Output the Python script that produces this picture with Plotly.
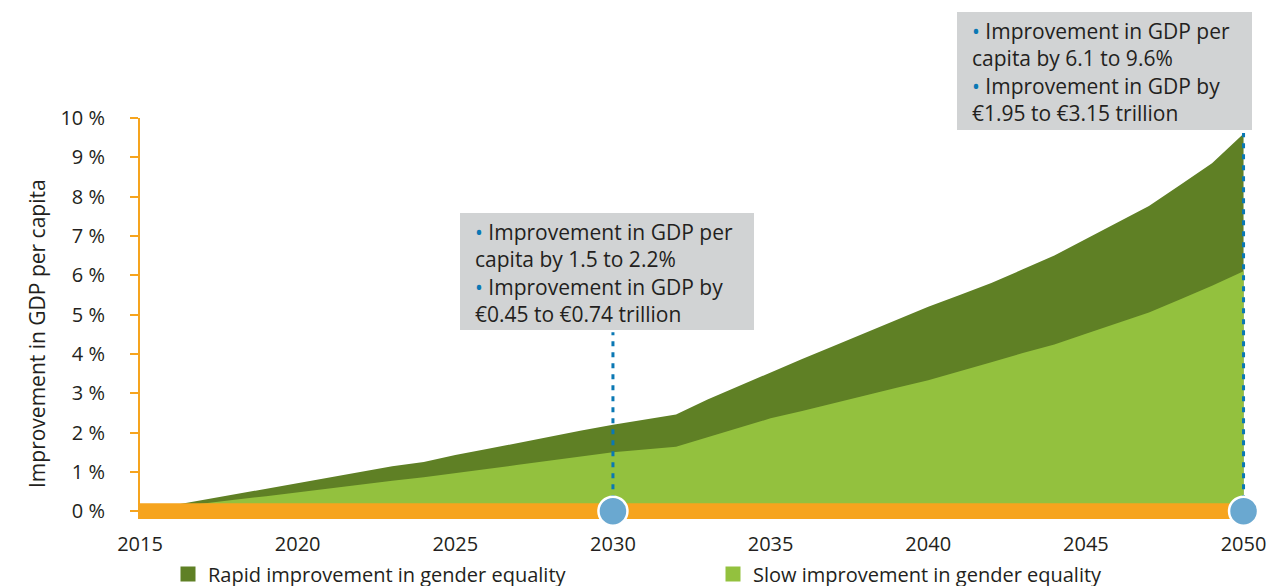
import plotly.graph_objects as go

# ---------------- data ----------------
years = list(range(2015, 2051))
rapid = [0.0, 0.14, 0.29, 0.43, 0.58, 0.72, 0.86, 1.0, 1.14, 1.25,
         1.43, 1.58, 1.74, 1.89, 2.05, 2.2, 2.33, 2.46, 2.84, 3.19,
         3.53, 3.87, 4.2, 4.53, 4.87, 5.2, 5.5, 5.8, 6.15, 6.5,
         6.92, 7.34, 7.76, 8.3, 8.85, 9.6]
slow = [0.0, 0.1, 0.19, 0.29, 0.38, 0.48, 0.58, 0.67, 0.77, 0.86,
        0.96, 1.07, 1.18, 1.29, 1.39, 1.5, 1.57, 1.64, 1.88, 2.12,
        2.36, 2.55, 2.75, 2.94, 3.14, 3.33, 3.57, 3.79, 4.02, 4.24,
        4.51, 4.78, 5.05, 5.39, 5.73, 6.1]
series_names = ["Rapid improvement in gender equality", "Slow improvement in gender equality"]
highlight_years = [2030, 2050]
highlight_texts = [
    ["Improvement in GDP per", "capita by 1.5 to 2.2%", "Improvement in GDP by", "€0.45 to €0.74 trillion"],
    ["Improvement in GDP per", "capita by 6.1 to 9.6%", "Improvement in GDP by", "€1.95 to €3.15 trillion"],
]
x_ticks = [2015, 2020, 2025, 2030, 2035, 2040, 2045, 2050]
y_ticks = list(range(0, 11))
y_tick_labels = ["%d %%" % v for v in y_ticks]
y_title = "Improvement in GDP per capita"

# ---------------- style ----------------
FONT = "Open Sans"
TXT = "#231f20"
DARK = "#5f8025"
LIGHT = "#93c13e"
ORANGE = "#f6a41e"
BLUE = "#0a78b4"
CIRCLE = "#6aa8d0"
BOX = "#d1d3d4"

fig = go.Figure()

fig.add_trace(go.Scatter(x=years, y=rapid, mode="lines", line=dict(width=0, color=DARK),
                         fill="tozeroy", fillcolor=DARK, showlegend=False, hoverinfo="skip"))
fig.add_trace(go.Scatter(x=years, y=slow, mode="lines", line=dict(width=0, color=LIGHT),
                         fill="tozeroy", fillcolor=LIGHT, showlegend=False, hoverinfo="skip"))

# orange baseline band
fig.add_trace(go.Scatter(x=[years[0], years[-1]], y=[0, 0], mode="lines",
                         line=dict(color=ORANGE, width=16), showlegend=False, hoverinfo="skip"))

# dashed leaders and circles
leader_tops = [4.55, 9.62]
for yr, top in zip(highlight_years, leader_tops):
    fig.add_trace(go.Scatter(x=[yr, yr], y=[0, top], mode="lines",
                             line=dict(color=BLUE, width=3, dash="5px,6px"),
                             showlegend=False, hoverinfo="skip"))
fig.add_trace(go.Scatter(x=highlight_years, y=[0] * len(highlight_years), mode="markers",
                         marker=dict(size=29, color=CIRCLE, line=dict(color="white", width=2.5)),
                         cliponaxis=False, showlegend=False, hoverinfo="skip"))

# legend entries
for name, col in zip(series_names, [DARK, LIGHT]):
    fig.add_trace(go.Scatter(x=[None], y=[None], mode="markers", name=name,
                             marker=dict(symbol="square", size=15, color=col)))

# annotation boxes (paper coords from pixel layout)
L, R, T, B = 140, 18, 118, 67
W, H = 1271 - L - R, 586 - T - B
def px(x):
    return (x - L) / W
def py(y):
    return (586 - B - y) / H

boxes = [(460, 213, 754, 330), (957, 12, 1252, 130)]
for (x0, y0, x1, y1), lines in zip(boxes, highlight_texts):
    fig.add_shape(type="rect", xref="paper", yref="paper", x0=px(x0), x1=px(x1), y0=py(y1), y1=py(y0),
                  fillcolor=BOX, line=dict(width=0), layer="above")
    bullet = '<span style="color:%s">•</span> ' % BLUE
    text = "<br>".join([bullet + lines[0], lines[1], bullet + lines[2], lines[3]])
    fig.add_annotation(xref="paper", yref="paper", x=px(x0 + 13), y=py((y0 + y1) / 2 + 1),
                       xanchor="left", yanchor="middle", align="left", showarrow=False,
                       text=text, font=dict(family=FONT, size=21, color=TXT))

fig.add_annotation(xref="paper", yref="paper", x=px(21), y=py(334), textangle=-90,
                   showarrow=False, text=y_title, font=dict(family=FONT, size=21, color=TXT))

fig.update_layout(
    width=1271, height=586,
    margin=dict(l=L, r=R, t=T, b=B, autoexpand=False),
    paper_bgcolor="white", plot_bgcolor="white",
    font=dict(family=FONT, size=20, color=TXT),
    showlegend=True,
    legend=dict(orientation="h", x=px(168), xanchor="left", y=py(574), yanchor="middle",
                entrywidth=500, entrywidthmode="pixels",
                font=dict(family=FONT, size=20, color=TXT), itemsizing="trace",
                bgcolor="rgba(0,0,0,0)"),
)
fig.update_xaxes(range=[2015, 2050.3], tickvals=x_ticks, ticks="", showgrid=False,
                 zeroline=False, showline=False, tickfont=dict(family=FONT, size=20, color=TXT),
                 ticklabelstandoff=11, automargin=False)
fig.update_yaxes(range=[-0.2, 10], tickvals=y_ticks, ticktext=y_tick_labels, ticks="outside",
                 ticklen=8, tickwidth=2, tickcolor=ORANGE, showline=True, linecolor=ORANGE,
                 linewidth=2, showgrid=False, zeroline=False, ticklabelstandoff=21,
                 tickfont=dict(family=FONT, size=20, color=TXT), automargin=False)

fig.write_html("out.html", config={"displayModeBar": False},
               post_script="document.body.style.margin='0';document.body.style.overflow='hidden';")
